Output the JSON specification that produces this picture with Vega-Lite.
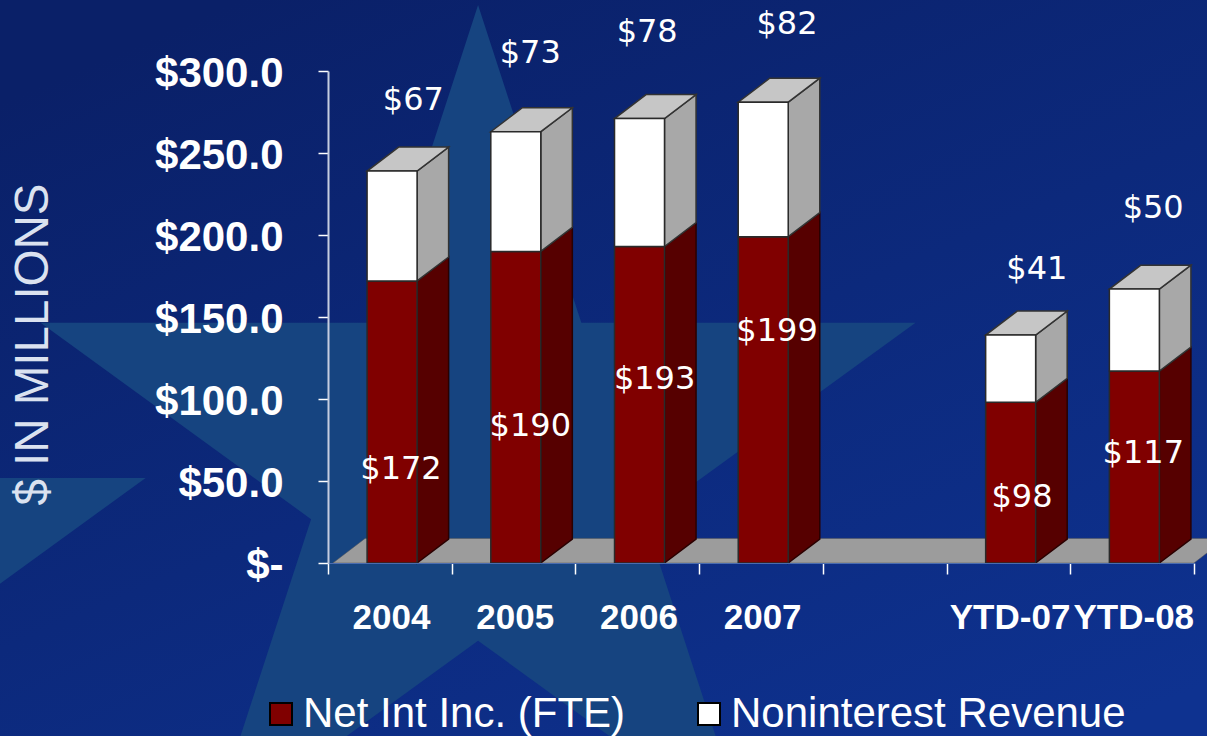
{
"$schema":"https://vega.github.io/schema/vega-lite/v6.json",
"width":866,"height":492,
"autosize":{"type":"none"},
"padding":{"left":328,"top":71,"right":13,"bottom":173},
"background":"#0b2a78",
"config":{"view":{"stroke":null},"axis":{"grid":false}},
"datasets":{
"segments":[
{"period":"2004","i":0,"series":"Net Int Inc. (FTE)","base":0,"value":172},
{"period":"2005","i":1,"series":"Net Int Inc. (FTE)","base":0,"value":190},
{"period":"2006","i":2,"series":"Net Int Inc. (FTE)","base":0,"value":193},
{"period":"2007","i":3,"series":"Net Int Inc. (FTE)","base":0,"value":199},
{"period":"YTD-07","i":5,"series":"Net Int Inc. (FTE)","base":0,"value":98},
{"period":"YTD-08","i":6,"series":"Net Int Inc. (FTE)","base":0,"value":117},
{"period":"2004","i":0,"series":"Noninterest Revenue","base":172,"value":67},
{"period":"2005","i":1,"series":"Noninterest Revenue","base":190,"value":73},
{"period":"2006","i":2,"series":"Noninterest Revenue","base":193,"value":78},
{"period":"2007","i":3,"series":"Noninterest Revenue","base":199,"value":82},
{"period":"YTD-07","i":5,"series":"Noninterest Revenue","base":98,"value":41},
{"period":"YTD-08","i":6,"series":"Noninterest Revenue","base":117,"value":50}
],
"labels":[
{"text":"$172","at":0.59,"height":57.5},
{"text":"$190","at":1.635,"height":83.5},
{"text":"$193","at":2.64,"height":112.5},
{"text":"$199","at":3.63,"height":141.5},
{"text":"$98","at":5.61,"height":40.5},
{"text":"$117","at":6.59,"height":67},
{"text":"$67","at":0.69,"height":282.5},
{"text":"$73","at":1.635,"height":311},
{"text":"$78","at":2.58,"height":324},
{"text":"$82","at":3.71,"height":328.5},
{"text":"$41","at":5.73,"height":179.5},
{"text":"$50","at":6.67,"height":216.5}
]
},
"layer":[
{"data":{"values":[{"a":1}]},
 "mark":{"type":"rect","clip":false,"color":{"gradient":"linear","x1":0.2,"y1":0,"x2":0.9,"y2":1,"stops":[{"offset":0,"color":"#0a2068"},{"offset":1,"color":"#0e3290"}]}},
 "encoding":{
  "x":{"datum":-2.66,"type":"quantitative","scale":{"domain":[0,7],"nice":false,"zero":false},
   "axis":{"title":null,"zindex":1,"values":[0,1,2,3,4,5,6,7],"labelExpr":"['2004','2005','2006','2007','','YTD-07','YTD-08',''][datum.value]","labelOffset":63,"labelFont":"Liberation Sans","labelFontWeight":"bold","labelFontSize":35,"labelColor":"#ffffff","labelPadding":26,"labelOverlap":false,"labelBound":false,"labelFlush":false,"tickColor":"#ffffff","tickSize":11,"tickWidth":1.5,"domainColor":"#4a6cb0","domainWidth":1}},
  "x2":{"datum":7.11},
  "y":{"datum":-105.6,"type":"quantitative","scale":{"domain":[0,300],"nice":false,"zero":false},
   "axis":{"title":"$ IN MILLIONS","titleFont":"Liberation Sans","titleFontWeight":"normal","titleFontSize":47.5,"titleColor":"#dbe2f0","titleX":-295,"titleY":273,"titleAngle":-90,"titleAlign":"center","titleBaseline":"middle","zindex":1,"values":[0,50,100,150,200,250,300],"labelExpr":"datum.value==0?'$-\u00a0':'$'+format(datum.value,'.1f')","labelFont":"Liberation Sans","labelFontWeight":"bold","labelFontSize":42,"labelColor":"#ffffff","labelPadding":35,"labelOffset":2,"labelOverlap":false,"labelBound":false,"labelFlush":false,"tickColor":"#ffffff","tickSize":10,"tickWidth":1.5,"domainColor":"#c5cde0","domainWidth":2}},
  "y2":{"datum":343.3}
 }},
{"data":{"values":[{"sx":1.213,"sy":59.8},{"sx":-5.01,"sy":-34.8}]},
 "mark":{"type":"point","filled":true,"clip":false,"opacity":1,"color":"#164480","size":846400,"shape":"M0,-1L.2245,-.309L.951,-.309L.363,.118L.588,.809L0,.382L-.588,.809L-.363,.118L-.951,-.309L-.2245,-.309Z"},
 "encoding":{"x":{"field":"sx","type":"quantitative"},"y":{"field":"sy","type":"quantitative"}}},
{"data":{"values":[{"level":0,"from":0.04,"to":7.0},{"level":15,"from":0.3,"to":7.26}]},
 "mark":{"type":"area","orient":"horizontal","clip":false,"color":"#9c9c9c","stroke":"#555555","strokeWidth":0.5},
 "encoding":{"y":{"field":"level","type":"quantitative"},"x":{"field":"from","type":"quantitative"},"x2":{"field":"to"}}},
{"data":{"name":"segments"},
 "transform":[
  {"filter":"datum.series=='Net Int Inc. (FTE)'"},
  {"calculate":"datum.i+0.72","as":"xa"},{"calculate":"datum.xa+0.255","as":"xb"},
  {"fold":["xa","xb"],"as":["edge","xpos"]},
  {"calculate":"datum.edge=='xb'?14.6:0","as":"lift"},
  {"calculate":"datum.base+datum.lift","as":"lo"},{"calculate":"datum.base+datum.value+datum.lift","as":"hi"}],
 "mark":{"type":"area","orient":"vertical","clip":false,"color":"#560000","stroke":"#2a0000","strokeWidth":1.5},
 "encoding":{"x":{"field":"xpos","type":"quantitative"},"y":{"field":"lo","type":"quantitative","stack":null},"y2":{"field":"hi"},"detail":{"field":"period"}}},
{"data":{"name":"segments"},
 "transform":[
  {"filter":"datum.series=='Noninterest Revenue'"},
  {"calculate":"datum.i+0.72","as":"xa"},{"calculate":"datum.xa+0.255","as":"xb"},
  {"fold":["xa","xb"],"as":["edge","xpos"]},
  {"calculate":"datum.edge=='xb'?14.6:0","as":"lift"},
  {"calculate":"datum.base+datum.lift","as":"lo"},{"calculate":"datum.base+datum.value+datum.lift","as":"hi"}],
 "mark":{"type":"area","orient":"vertical","clip":false,"color":"#a8a8a8","stroke":"#333333","strokeWidth":1.5},
 "encoding":{"x":{"field":"xpos","type":"quantitative"},"y":{"field":"lo","type":"quantitative","stack":null},"y2":{"field":"hi"},"detail":{"field":"period"}}},
{"data":{"name":"segments"},
 "transform":[
  {"filter":"datum.series=='Noninterest Revenue'"},
  {"calculate":"datum.base+datum.value","as":"near"},{"calculate":"datum.near+14.6","as":"far"},
  {"fold":["near","far"],"as":["edge","level"]},
  {"calculate":"datum.i+0.316+(datum.edge=='far'?0.255:0)","as":"xl"},{"calculate":"datum.xl+0.404","as":"xr"}],
 "mark":{"type":"area","orient":"horizontal","clip":false,"color":"#c6c6c6","stroke":"#333333","strokeWidth":1.5},
 "encoding":{"y":{"field":"level","type":"quantitative","stack":null},"x":{"field":"xl","type":"quantitative"},"x2":{"field":"xr"},"detail":{"field":"period"}}},
{"data":{"name":"segments"},
 "transform":[
  {"calculate":"datum.i+0.316","as":"xl"},{"calculate":"datum.xl+0.404","as":"xr"},{"calculate":"datum.base+datum.value","as":"top"}],
 "mark":{"type":"rect","clip":false,"stroke":"#2a2a2a","strokeWidth":1.5},
 "encoding":{"x":{"field":"xl","type":"quantitative"},"x2":{"field":"xr"},"y":{"field":"base","type":"quantitative"},"y2":{"field":"top"},
  "fill":{"field":"series","type":"nominal","scale":{"domain":["Net Int Inc. (FTE)","Noninterest Revenue"],"range":["#800000","#ffffff"]},
   "legend":{"title":null,"orient":"none","legendX":-68,"legendY":622,"direction":"horizontal","symbolType":"square","symbolSize":484,"symbolStrokeColor":"#000000","symbolStrokeWidth":2,"labelFont":"Liberation Sans","labelFontSize":42,"labelColor":"#ffffff","labelLimit":600,"labelOffset":1,"columnPadding":62,"rowPadding":0}}}},
{"data":{"name":"labels"},
 "mark":{"type":"text","clip":false,"font":"DejaVu Sans","fontSize":32,"color":"#ffffff","align":"center","baseline":"middle"},
 "encoding":{"x":{"field":"at","type":"quantitative"},"y":{"field":"height","type":"quantitative"},"text":{"field":"text"}}}
]
}
